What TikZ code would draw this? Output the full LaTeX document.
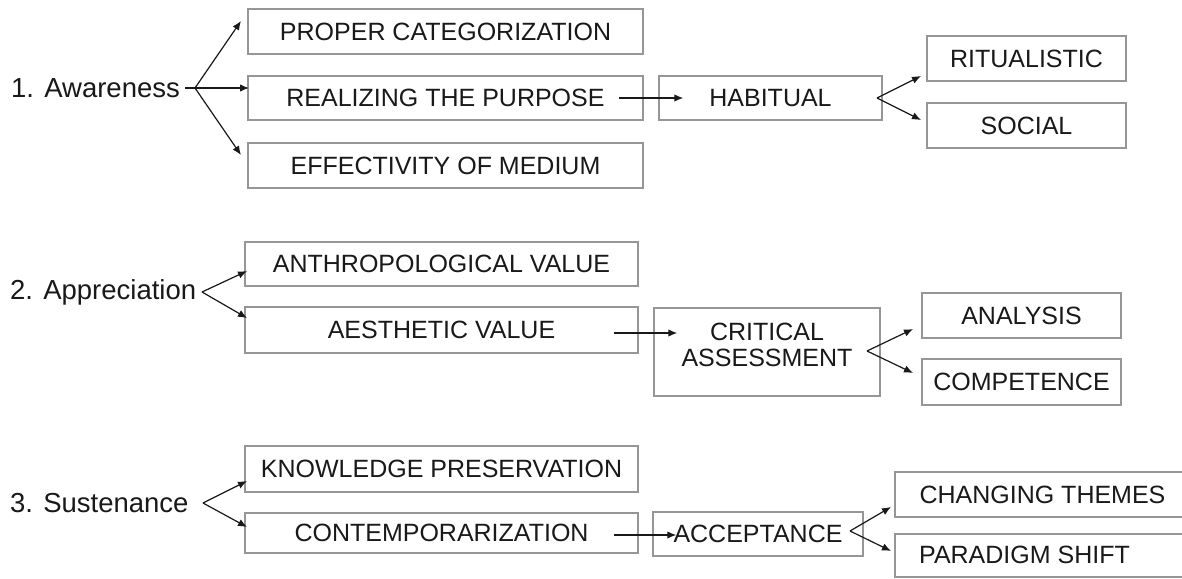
\documentclass[tikz,border=0pt]{standalone}
\usepackage{fontspec}
\setmainfont{Liberation Sans}
\usetikzlibrary{arrows.meta}
\definecolor{boxgray}{RGB}{150,150,150}
\definecolor{txt}{RGB}{25,25,25}
\begin{document}
\begin{tikzpicture}[x=1pt,y=-1pt,
  box/.style={draw=boxgray, line width=1.5pt, inner sep=0pt, font=\fontsize{25}{27}\selectfont, text=txt},
  tx/.style={inner sep=0pt, font=\fontsize{25}{26.5}\selectfont, text=txt, align=center},
  lab/.style={inner sep=0pt, font=\fontsize{27.5}{30}\selectfont, text=txt, anchor=west},
  arr/.style={-{Latex[length=9pt,width=7.5pt]}, line width=1.2pt, draw=txt},
  ln/.style={line width=1.2pt, draw=txt}]
\useasboundingbox[fill=white] (0,0) rectangle (1182,578);

% ---------- Row 1 ----------
\node[lab] (aw) at (11,88) {1. Awareness};
\node[box, minimum width=395pt, minimum height=45pt] (proper) at (445.5,31.5) {PROPER CATEGORIZATION};
\node[box, minimum width=395pt, minimum height=44pt] (realizing) at (445.5,98) {REALIZING THE PURPOSE};
\node[box, minimum width=395pt, minimum height=45pt] (effect) at (445.5,165.5) {EFFECTIVITY OF MEDIUM};
\node[box, minimum width=223pt, minimum height=44pt] (habitual) at (770.5,98) {HABITUAL};
\node[box, minimum width=199pt, minimum height=45pt] (ritual) at (1026.5,58.5) {RITUALISTIC};
\node[box, minimum width=199pt, minimum height=45pt] (social) at (1026.5,125.5) {SOCIAL};

\coordinate (f1) at (195,88);
\coordinate (t1a) at (241,21);
\coordinate (t1b) at (249,88);
\coordinate (t1c) at (241,155);
\draw[ln] ([xshift=5pt]aw.east) -- (f1);
\draw[arr] (f1) -- (t1a);
\draw[arr] (f1) -- (t1b);
\draw[arr] (f1) -- (t1c);
\draw[arr] ([xshift=-25pt]realizing.east) -- ([xshift=25pt]habitual.west);
\coordinate (f2) at (877,98);
\coordinate (t2a) at (921,76);
\coordinate (t2b) at (921,120);
\draw[arr] (f2) -- (t2a);
\draw[arr] (f2) -- (t2b);

% ---------- Row 2 ----------
\node[lab] (ap) at (10,292) {2. Appreciation};
\node[box, minimum width=393pt, minimum height=44pt] (anthro) at (441.5,264) {ANTHROPOLOGICAL VALUE};
\node[box, minimum width=393pt, minimum height=46pt] (aesth) at (441.5,330) {AESTHETIC VALUE};
\node[box, minimum width=226pt, minimum height=88pt] (critical) at (767,352) {};
\node[tx] (critt) at (767,345) {CRITICAL\\ASSESSMENT};
\node[box, minimum width=199pt, minimum height=45pt] (analysis) at (1021.5,315.5) {ANALYSIS};
\node[box, minimum width=199pt, minimum height=46pt] (compet) at (1021.5,382) {COMPETENCE};

\coordinate (f3) at (202,292);
\coordinate (t3a) at (247,271);
\coordinate (t3b) at (247,318);
\draw[arr] (f3) -- (t3a);
\draw[arr] (f3) -- (t3b);
\draw[arr] ([xshift=-25pt, yshift=-3pt]aesth.east) -- ([yshift=-3pt]aesth.east -| critical.west) -- ++(24,0);
\coordinate (f4) at (867,351);
\coordinate (t4a) at (913,329);
\coordinate (t4b) at (913,373);
\draw[arr] (f4) -- (t4a);
\draw[arr] (f4) -- (t4b);

% ---------- Row 3 ----------
\node[lab] (su) at (10,503) {3. Sustenance};
\node[box, minimum width=393pt, minimum height=46pt] (knowl) at (441.5,469) {KNOWLEDGE PRESERVATION};
\node[box, minimum width=393pt, minimum height=40pt] (contemp) at (441.5,533) {CONTEMPORARIZATION};
\node[box, minimum width=210pt, minimum height=44pt] (accept) at (758,534) {ACCEPTANCE};
\node[box, minimum width=295pt, minimum height=45pt] (changing) at (1042.5,494.5) {CHANGING THEMES};
\node[box, minimum width=295pt, minimum height=43pt] (paradigm) at (1042.5,555.5) {};
\node[tx] (paradt) at (1024.5,555) {PARADIGM SHIFT};

\coordinate (f5) at (203,503);
\coordinate (t5a) at (247,481);
\coordinate (t5b) at (247,527);
\draw[arr] (f5) -- (t5a);
\draw[arr] (f5) -- (t5b);
\draw[arr] ([xshift=-25pt, yshift=-2pt]contemp.east) -- ([yshift=-2pt]contemp.east -| accept.west) -- ++(24,0);
\coordinate (f6) at (850,531);
\coordinate (t6a) at (891,507);
\coordinate (t6b) at (891,551);
\draw[arr] (f6) -- (t6a);
\draw[arr] (f6) -- (t6b);
\end{tikzpicture}
\end{document}
